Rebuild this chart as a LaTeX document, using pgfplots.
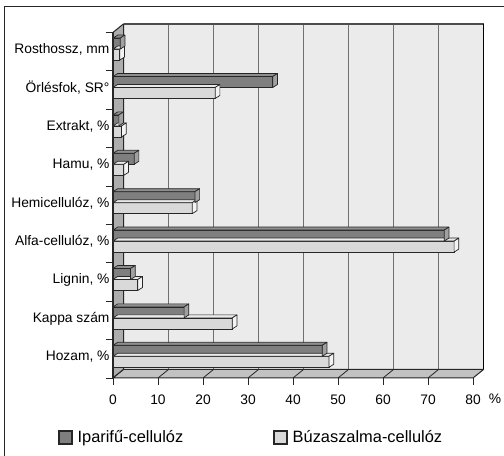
\documentclass[border=0pt]{standalone}
\usepackage{pgfplots}
\usepackage{pgfplotstable}
\pgfplotsset{compat=1.18}
\usepackage{fontspec}
\setmainfont{Liberation Sans}

\definecolor{dkfront}{HTML}{7F7F7F}
\definecolor{dktop}{HTML}{8E8E8E}
\definecolor{dkside}{HTML}{A0A0A0}
\definecolor{ltfront}{HTML}{D9D9D9}
\definecolor{lttop}{HTML}{EAEAEA}
\definecolor{ltside}{HTML}{F4F4F4}
\definecolor{backwall}{HTML}{EBEBEB}
\definecolor{sidewall}{HTML}{ADADAD}
\definecolor{floorc}{HTML}{C2C2C2}
\definecolor{gridc}{HTML}{707070}
\definecolor{edgec}{HTML}{262626}

% category index (0 = bottom) and value
\pgfplotstableread{
cat v
0 46.5
1 15.8
2 3.9
3 73.6
4 18.2
5 4.7
6 1.3
7 35.5
8 1.6
}\iparifu
\pgfplotstableread{
cat v
0 48.0
1 26.5
2 5.5
3 75.8
4 17.6
5 2.4
6 1.9
7 22.7
8 1.5
}\buza

% top and right faces of a 3-D bar; the mark sits at the end of the bar,
% \barval is the bar's value. #1 centre offset, #2 top colour, #3 side colour
\newcommand\barfacepath[3]{%
  \pgfsetlinewidth{0.7bp}%
  \pgfsetstrokecolor{edgec}%
  \pgfsetroundjoin
  \pgfsetfillcolor{#2}%
  \pgfpathmoveto{\pgfpoint{-\barval*4.5bp}{#1+5.5bp}}%
  \pgfpathlineto{\pgfpoint{0bp}{#1+5.5bp}}%
  \pgfpathlineto{\pgfpoint{4.7bp}{#1+8.5bp}}%
  \pgfpathlineto{\pgfpoint{-\barval*4.5bp+4.7bp}{#1+8.5bp}}%
  \pgfpathclose
  \pgfusepath{fill,stroke}%
  \pgfsetfillcolor{#3}%
  \pgfpathmoveto{\pgfpoint{0bp}{#1-5.5bp}}%
  \pgfpathlineto{\pgfpoint{4.7bp}{#1-2.5bp}}%
  \pgfpathlineto{\pgfpoint{4.7bp}{#1+8.5bp}}%
  \pgfpathlineto{\pgfpoint{0bp}{#1+5.5bp}}%
  \pgfpathclose
  \pgfusepath{fill,stroke}%
}
\pgfdeclareplotmark{iparifu faces}{\barfacepath{8bp}{dktop}{dkside}}
\pgfdeclareplotmark{buza faces}{\barfacepath{-3bp}{lttop}{ltside}}

\pgfplotsset{
  bar faces/.style={
    scatter, only marks, mark=#1, point meta=x,
    scatter/@pre marker code/.code={\scope},
    scatter/@post marker code/.code={\endscope},
    visualization depends on={rawx \as \barval},
    forget plot},
  front bar/.style={
    xbar, bar width=11bp, draw=edgec, line width=0.7bp, forget plot},
}

\tikzset{back/.style={shift={(10.5bp,8.5bp)}}}

\begin{document}
\begin{tikzpicture}
\useasboundingbox (0,0) rectangle (504bp,456bp);
% outer frame
\draw[edgec, line width=1bp] (4bp,-5bp) -- (4bp,449bp) -- (510bp,449bp);

\begin{axis}[
  at={(113bp,78bp)}, anchor=south west,
  x=4.5bp, y=38.4bp,
  xmin=0, xmax=80, ymin=-0.5, ymax=8.5,
  clip=false,
  axis x line*=bottom, axis y line*=left,
  axis line style={draw=none},
  tick align=outside, major tick length=7bp,
  tick style={draw=edgec, line width=0.8bp},
  xtick={0,10,...,80},
  ytick={-0.5,0.5,...,8.5}, yticklabels={},
  extra y ticks={0,1,...,8},
  extra y tick labels={{Hozam, \%},{Kappa szám},{Lignin, \%},{Alfa-cellulóz, \%},{Hemicellulóz, \%},{Hamu, \%},{Extrakt, \%},{Örlésfok, SR°},{Rosthossz, mm}},
  extra y tick style={major tick length=0pt,
    yticklabel style={yshift=2bp, xshift=0bp}},
  tick label style={font=\fontsize{13.8bp}{16bp}\selectfont},
  xticklabel style={yshift=-6bp},
  /pgf/number format/assume math mode=true,
  legend columns=2,
  legend style={at={(-0.1528,-0.172)}, anchor=west, draw=none, fill=none,
    inner sep=0pt, font=\fontsize{16.4bp}{19bp}\selectfont,
    /tikz/every odd column/.append style={column sep=3bp},
    /tikz/every even column/.append style={column sep=88bp}},
]
% back wall with its grid
\fill[backwall] ([back]axis cs:0,-0.5) rectangle ([back]axis cs:80,8.5);
\pgfplotsinvokeforeach{10,20,...,70}{
  \draw[gridc, line width=1.2bp] ([back]axis cs:#1,-0.5) -- ([back]axis cs:#1,8.5);
}
\draw[black!70, line width=1.3bp] ([back]axis cs:0,8.5) -- ([back]axis cs:80,8.5);
\draw[black, line width=1.3bp] ([back]axis cs:80,8.5) -- ([back]axis cs:80,-0.5);
% left wall
\filldraw[fill=sidewall, draw=edgec, line width=1bp, line join=round]
  (axis cs:0,-0.5) -- (axis cs:0,8.5) -- ([back]axis cs:0,8.5) -- ([back]axis cs:0,-0.5) -- cycle;
% floor
\filldraw[fill=floorc, draw=edgec, line width=1bp, line join=round]
  (axis cs:0,-0.5) -- (axis cs:80,-0.5) -- ([back]axis cs:80,-0.5) -- ([back]axis cs:0,-0.5) -- cycle;
\pgfplotsinvokeforeach{10,20,...,70}{
  \draw[edgec, line width=0.8bp] (axis cs:#1,-0.5) -- ([back]axis cs:#1,-0.5);
}
\draw[edgec, line width=1.2bp] (axis cs:0,-0.5) -- (axis cs:0,8.5);

% bars
\addplot[bar faces=buza faces] table[x=v, y=cat] {\buza};
\addplot[front bar, bar shift=8bp, fill=dkfront] table[x=v, y=cat] {\iparifu};
\addplot[front bar, bar shift=-3bp, fill=ltfront] table[x=v, y=cat] {\buza};
\addplot[bar faces=iparifu faces] table[x=v, y=cat] {\iparifu};

\node[font=\fontsize{13.8bp}{16bp}\selectfont] at ([xshift=22bp, yshift=-21bp]axis cs:80,-0.5) {\%};

\addlegendimage{legend image code/.code={\draw[fill=dkfront, draw=edgec, line width=1.4bp] (0bp,-6.5bp) rectangle (13bp,6.5bp);}}
\addlegendentry{Iparifű-cellulóz}
\addlegendimage{legend image code/.code={\draw[fill=ltfront, draw=edgec, line width=1.4bp] (0bp,-6.5bp) rectangle (13bp,6.5bp);}}
\addlegendentry{Búzaszalma-cellulóz}
\end{axis}
\end{tikzpicture}
\end{document}
